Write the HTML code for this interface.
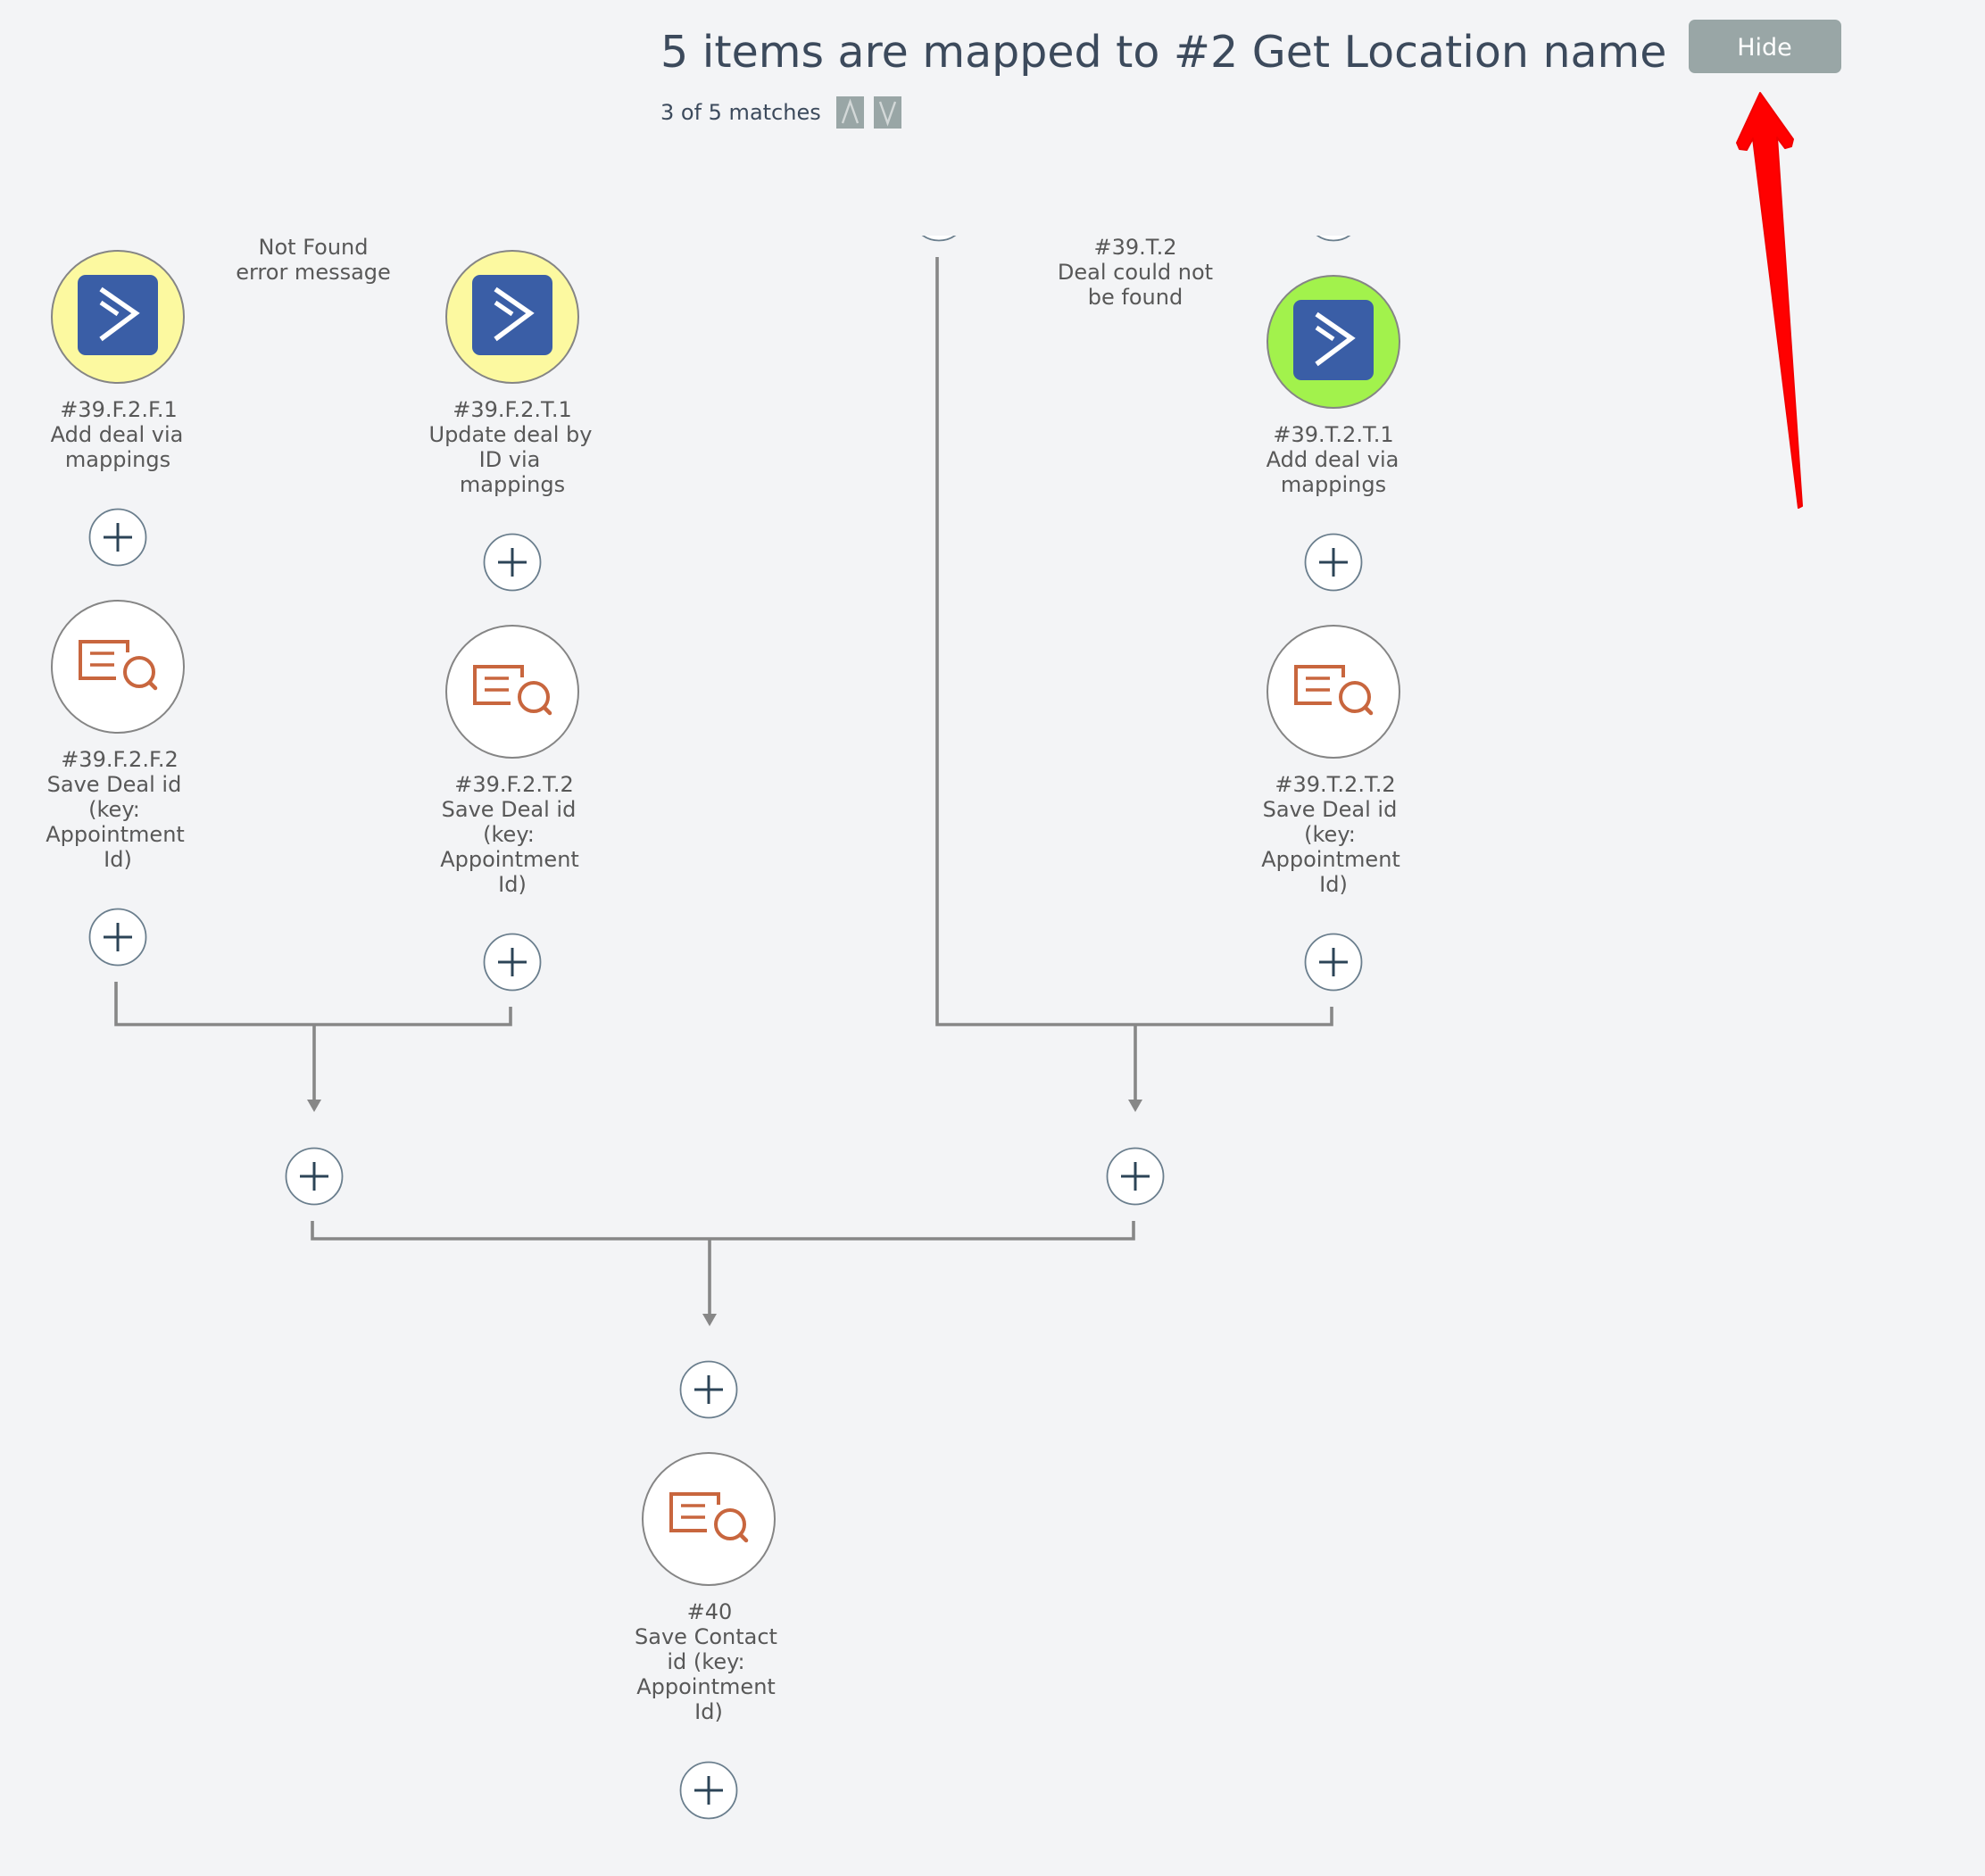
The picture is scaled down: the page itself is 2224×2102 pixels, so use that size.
<!DOCTYPE html>
<html>
<head>
<meta charset="utf-8">
<style>
  html,body{margin:0;padding:0;background:#f3f4f6;}
  svg{display:block;}
  text{font-family:"DejaVu Sans","Liberation Sans",sans-serif;}
  .lbl{font-size:24px;fill:#585858;text-anchor:middle;}
  .conn{fill:none;stroke:#878787;stroke-width:3.6;}
  .plusc{fill:#ffffff;stroke:#6a7e8d;stroke-width:1.8;}
  .plusl{stroke:#2c4457;stroke-width:3;fill:none;}
  .node{stroke:#858585;stroke-width:2;}
  .ic{fill:none;stroke:#c8663e;}
</style>
</head>
<body>
<svg width="2224" height="2102" viewBox="0 0 2224 2102" xmlns="http://www.w3.org/2000/svg">
  <rect x="0" y="0" width="2224" height="2102" fill="#f3f4f6"/>

  <!-- Header -->
  <text x="740" y="75" style="font-size:49px;fill:#3c4a5c;">5 items are mapped to #2 Get Location name</text>
  <rect x="1892" y="22" width="171" height="60" rx="7" fill="#99a6a6"/>
  <text x="1977" y="62" style="font-size:27px;fill:#ffffff;text-anchor:middle;">Hide</text>
  <text x="740" y="134" style="font-size:24px;fill:#3c4a5c;">3 of 5 matches</text>
  <rect x="937" y="108" width="31" height="36" fill="#99a6a6"/>
  <polyline points="944,138 952.5,114 961,138" fill="none" stroke="#d3d8d8" stroke-width="2.4"/>
  <rect x="979" y="108" width="31" height="36" fill="#99a6a6"/>
  <polyline points="986,114 994.5,138 1003,114" fill="none" stroke="#d3d8d8" stroke-width="2.4"/>

  <!-- Red arrow -->
  <polygon points="1972,104 2009,156 2007,164 2000,166 1991,154 2019,567 2015,569 1964,155 1957,168 1949,167 1946,160" fill="#ff0000" stroke="#f00000" stroke-width="2" stroke-linejoin="round"/>

  <!-- clipped plus circles at top -->
  <clipPath id="topclip"><rect x="0" y="264" width="2224" height="40"/></clipPath>
  <g clip-path="url(#topclip)">
    <circle cx="1052" cy="238" r="31.5" class="plusc"/>
    <circle cx="1494" cy="238" r="31.5" class="plusc"/>
  </g>

  <!-- Branch labels -->
  <text class="lbl" x="351" y="285">Not Found</text>
  <text class="lbl" x="351" y="313">error message</text>
  <text class="lbl" x="1272" y="285">#39.T.2</text>
  <text class="lbl" x="1272" y="313">Deal could not</text>
  <text class="lbl" x="1272" y="341">be found</text>

  <!-- Connectors -->
  <path class="conn" d="M130 1100 V1148 H572 V1128"/>
  <path class="conn" d="M352 1148 V1233"/>
  <polygon points="344,1232 360,1232 352,1246" fill="#878787"/>

  <path class="conn" d="M1050 288 V1148 H1492 V1128"/>
  <path class="conn" d="M1272 1148 V1233"/>
  <polygon points="1264,1232 1280,1232 1272,1246" fill="#878787"/>

  <path class="conn" d="M350 1368 V1388 H1270 V1368"/>
  <path class="conn" d="M795 1388 V1473"/>
  <polygon points="787,1472 803,1472 795,1486" fill="#878787"/>

  <!-- Node A: #39.F.2.F.1 -->
  <circle cx="132" cy="355" r="74" fill="#fcf9a0" class="node"/>
  <g transform="translate(132,355)">
    <rect x="-45" y="-47" width="90" height="90" rx="9" fill="#3a5ea6"/>
    <path d="M-19 -31 L20 -4 L-19 25" fill="none" stroke="#fff" stroke-width="5.5"/>
    <path d="M-19 -16 L0 -3" fill="none" stroke="#fff" stroke-width="5"/>
  </g>
  <text class="lbl" x="133" y="467">#39.F.2.F.1</text>
  <text class="lbl" x="131" y="495">Add deal via</text>
  <text class="lbl" x="132" y="523">mappings</text>

  <!-- Node B: #39.F.2.T.1 -->
  <circle cx="574" cy="355" r="74" fill="#fcf9a0" class="node"/>
  <g transform="translate(574,355)">
    <rect x="-45" y="-47" width="90" height="90" rx="9" fill="#3a5ea6"/>
    <path d="M-19 -31 L20 -4 L-19 25" fill="none" stroke="#fff" stroke-width="5.5"/>
    <path d="M-19 -16 L0 -3" fill="none" stroke="#fff" stroke-width="5"/>
  </g>
  <text class="lbl" x="574" y="467">#39.F.2.T.1</text>
  <text class="lbl" x="572" y="495">Update deal by</text>
  <text class="lbl" x="571" y="523">ID via</text>
  <text class="lbl" x="574" y="551">mappings</text>

  <!-- Node C: #39.T.2.T.1 -->
  <circle cx="1494" cy="383" r="74" fill="#a2f24c" class="node"/>
  <g transform="translate(1494,383)">
    <rect x="-45" y="-47" width="90" height="90" rx="9" fill="#3a5ea6"/>
    <path d="M-19 -31 L20 -4 L-19 25" fill="none" stroke="#fff" stroke-width="5.5"/>
    <path d="M-19 -16 L0 -3" fill="none" stroke="#fff" stroke-width="5"/>
  </g>
  <text class="lbl" x="1494" y="495">#39.T.2.T.1</text>
  <text class="lbl" x="1493" y="523">Add deal via</text>
  <text class="lbl" x="1494" y="551">mappings</text>

  <!-- Plus buttons row 1 -->
  <g>
    <circle cx="132" cy="602" r="31.5" class="plusc"/>
    <path class="plusl" d="M116 602 H148 M132 586 V618"/>
    <circle cx="574" cy="630" r="31.5" class="plusc"/>
    <path class="plusl" d="M558 630 H590 M574 614 V646"/>
    <circle cx="1494" cy="630" r="31.5" class="plusc"/>
    <path class="plusl" d="M1478 630 H1510 M1494 614 V646"/>
  </g>

  <!-- Node D: #39.F.2.F.2 -->
  <circle cx="132" cy="747" r="74" fill="#ffffff" class="node"/>
  <g transform="translate(132,747)">
    <path class="ic" d="M11 -16 V-28 H-42 V13 H-2" stroke-width="4"/>
    <path class="ic" d="M-31 -15 H-4 M-31 -2 H-4" stroke-width="3.5"/>
    <circle class="ic" cx="24" cy="6" r="16" stroke-width="4"/>
    <path class="ic" d="M36 18 L42 24" stroke-width="4.5" stroke-linecap="round"/>
  </g>
  <text class="lbl" x="134" y="859">#39.F.2.F.2</text>
  <text class="lbl" x="128" y="887">Save Deal id</text>
  <text class="lbl" x="128" y="915">(key:</text>
  <text class="lbl" x="129" y="943">Appointment</text>
  <text class="lbl" x="132" y="971">Id)</text>

  <!-- Node E: #39.F.2.T.2 -->
  <circle cx="574" cy="775" r="74" fill="#ffffff" class="node"/>
  <g transform="translate(574,775)">
    <path class="ic" d="M11 -16 V-28 H-42 V13 H-2" stroke-width="4"/>
    <path class="ic" d="M-31 -15 H-4 M-31 -2 H-4" stroke-width="3.5"/>
    <circle class="ic" cx="24" cy="6" r="16" stroke-width="4"/>
    <path class="ic" d="M36 18 L42 24" stroke-width="4.5" stroke-linecap="round"/>
  </g>
  <text class="lbl" x="576" y="887">#39.F.2.T.2</text>
  <text class="lbl" x="570" y="915">Save Deal id</text>
  <text class="lbl" x="570" y="943">(key:</text>
  <text class="lbl" x="571" y="971">Appointment</text>
  <text class="lbl" x="574" y="999">Id)</text>

  <!-- Node F: #39.T.2.T.2 -->
  <circle cx="1494" cy="775" r="74" fill="#ffffff" class="node"/>
  <g transform="translate(1494,775)">
    <path class="ic" d="M11 -16 V-28 H-42 V13 H-2" stroke-width="4"/>
    <path class="ic" d="M-31 -15 H-4 M-31 -2 H-4" stroke-width="3.5"/>
    <circle class="ic" cx="24" cy="6" r="16" stroke-width="4"/>
    <path class="ic" d="M36 18 L42 24" stroke-width="4.5" stroke-linecap="round"/>
  </g>
  <text class="lbl" x="1496" y="887">#39.T.2.T.2</text>
  <text class="lbl" x="1490" y="915">Save Deal id</text>
  <text class="lbl" x="1490" y="943">(key:</text>
  <text class="lbl" x="1491" y="971">Appointment</text>
  <text class="lbl" x="1494" y="999">Id)</text>

  <!-- Plus buttons row 2 -->
  <circle cx="132" cy="1050" r="31.5" class="plusc"/>
  <path class="plusl" d="M116 1050 H148 M132 1034 V1066"/>
  <circle cx="574" cy="1078" r="31.5" class="plusc"/>
  <path class="plusl" d="M558 1078 H590 M574 1062 V1094"/>
  <circle cx="1494" cy="1078" r="31.5" class="plusc"/>
  <path class="plusl" d="M1478 1078 H1510 M1494 1062 V1094"/>

  <!-- Merge plus buttons -->
  <circle cx="352" cy="1318" r="31.5" class="plusc"/>
  <path class="plusl" d="M336 1318 H368 M352 1302 V1334"/>
  <circle cx="1272" cy="1318" r="31.5" class="plusc"/>
  <path class="plusl" d="M1256 1318 H1288 M1272 1302 V1334"/>

  <circle cx="794" cy="1557" r="31.5" class="plusc"/>
  <path class="plusl" d="M778 1557 H810 M794 1541 V1573"/>

  <!-- Node #40 -->
  <circle cx="794" cy="1702" r="74" fill="#ffffff" class="node"/>
  <g transform="translate(794,1702)">
    <path class="ic" d="M11 -16 V-28 H-42 V13 H-2" stroke-width="4"/>
    <path class="ic" d="M-31 -15 H-4 M-31 -2 H-4" stroke-width="3.5"/>
    <circle class="ic" cx="24" cy="6" r="16" stroke-width="4"/>
    <path class="ic" d="M36 18 L42 24" stroke-width="4.5" stroke-linecap="round"/>
  </g>
  <text class="lbl" x="795" y="1814">#40</text>
  <text class="lbl" x="791" y="1842">Save Contact</text>
  <text class="lbl" x="791" y="1870">id (key:</text>
  <text class="lbl" x="791" y="1898">Appointment</text>
  <text class="lbl" x="794" y="1926">Id)</text>

  <circle cx="794" cy="2006" r="31.5" class="plusc"/>
  <path class="plusl" d="M778 2006 H810 M794 1990 V2022"/>
</svg>
</body>
</html>
